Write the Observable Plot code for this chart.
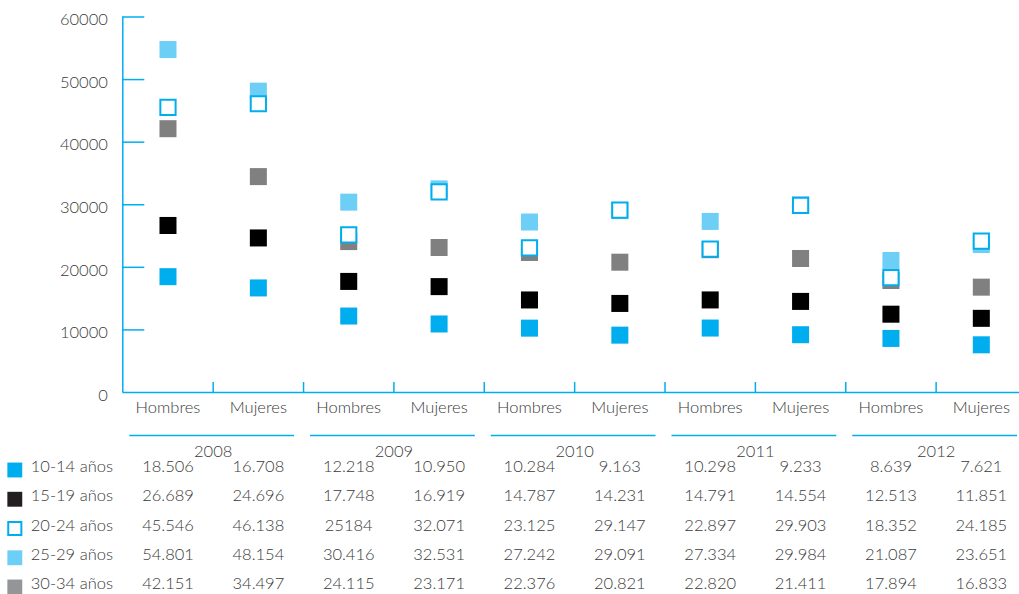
<!DOCTYPE html>
<html>
<head>
<meta charset="utf-8">
<script src="https://cdn.jsdelivr.net/npm/d3@7"></script>
<script src="https://cdn.jsdelivr.net/npm/@observablehq/plot@0.6"></script>
<style>
  html, body { margin: 0; padding: 0; background: #fff; }
  #chart svg { display: block; }
</style>
</head>
<body>
<div id="chart"></div>
<script>
const years = ["2008", "2009", "2010", "2011", "2012"];
const sexes = ["Hombres", "Mujeres"];
const groups = ["10-14 años", "15-19 años", "20-24 años", "25-29 años", "30-34 años"];
const yTicks = [0, 10000, 20000, 30000, 40000, 50000, 60000];

// values per column: 2008 H, 2008 M, 2009 H, 2009 M, ... 2012 M
const s1014 = [18506, 16708, 12218, 10950, 10284, 9163, 10298, 9233, 8639, 7621];
const s1519 = [26689, 24696, 17748, 16919, 14787, 14231, 14791, 14554, 12513, 11851];
const s2024 = [45546, 46138, 25184, 32071, 23125, 29147, 22897, 29903, 18352, 24185];
const s2529 = [54801, 48154, 30416, 32531, 27242, 29091, 27334, 29984, 21087, 23651];
const s3034 = [42151, 34497, 24115, 23171, 22376, 20821, 22820, 21411, 17894, 16833];
const series = [s1014, s1519, s2024, s2529, s3034];
// a cell printed without thousands separator in the source table
const rawCells = [[2, 2]];

const fills = ["#00AEEF", "#000000", "#FFFFFF", "#6DCFF6", "#808080"];
const strokes = ["none", "none", "#00AEEF", "none", "none"];
const drawOrder = [0, 1, 3, 4, 2];

const fmt = d3.formatLocale({decimal: ",", thousands: ".", grouping: [3]}).format(",d");
const label = (g, i) => rawCells.some(([a, b]) => a === g && b === i) ? String(series[g][i]) : fmt(series[g][i]);

const cols = [];
years.forEach((yr, yi) => sexes.forEach((sx, si) => {
  const i = yi * 2 + si;
  cols.push({i, year: yr, sex: sx, x: i + 0.5});
}));

const points = [];
groups.forEach((g, gi) => cols.forEach(c => points.push({g: gi, x: c.x, value: series[gi][c.i]})));

const blue = "#00AEEF";
const txt = "#3a3a3a";
const rowDy = gi => 79.5 + gi * 29.25;
const fs = 16.5;

const marks = [
  // y axis line and inward ticks
  Plot.ruleX([0], {y1: 0, y2: 60000, stroke: blue, strokeWidth: 1.5}),
  Plot.ruleY(yTicks.slice(1), {y: d => d, x1: 0, x2: 0, insetRight: -22, stroke: blue, strokeWidth: 1.5}),
  Plot.axisY(yTicks, {tickSize: 0, tickPadding: 15, dy: 3, fontSize: fs, fill: txt, tickFormat: d => String(d), label: null}),
  // baseline and category separators
  Plot.ruleY([0], {x1: 0, x2: 10, stroke: blue, strokeWidth: 1.5}),
  Plot.ruleX(d3.range(1, 10), {x: d => d, y1: 0, y2: 0, insetTop: -10, stroke: blue, strokeWidth: 1.5}),
  // category labels
  Plot.text(cols, {x: "x", text: "sex", frameAnchor: "bottom", dy: 20, fontSize: fs, fill: txt}),
  // year group lines and labels
  Plot.ruleY(years, {y: 0, x1: (d, i) => i * 2, x2: (d, i) => i * 2 + 2, insetLeft: 7, insetRight: 9, dy: 43, stroke: blue, strokeWidth: 1.5}),
  Plot.text(years, {x: (d, i) => i * 2 + 1, text: d => d, frameAnchor: "bottom", dy: 64, fontSize: fs, fill: txt})
];

// points
drawOrder.forEach(gi => {
  const hollow = strokes[gi] !== "none";
  marks.push(Plot.dot(points.filter(p => p.g === gi), {
    x: "x", y: "value", symbol: "square",
    r: hollow ? 8.6 : 9.6,
    fill: fills[gi], stroke: strokes[gi], strokeWidth: hollow ? 2 : 0
  }));
});

// table rows + legend
groups.forEach((g, gi) => {
  const hollow = strokes[gi] !== "none";
  marks.push(Plot.text(cols, {x: "x", text: c => label(gi, c.i), frameAnchor: "bottom", dy: rowDy(gi), fontSize: fs, fill: txt}));
  marks.push(Plot.dot([g], {frameAnchor: "bottom-left", dx: -108, dy: rowDy(gi) - 2, symbol: "square",
    r: hollow ? 7.4 : 8.4, fill: gi === 4 ? "#939598" : (gi === 1 ? "#231F20" : fills[gi]), stroke: strokes[gi], strokeWidth: hollow ? 2 : 0}));
  marks.push(Plot.text([g], {frameAnchor: "bottom-left", dx: -92, dy: rowDy(gi), text: d => d, textAnchor: "start", fontSize: fs, fill: txt}));
});

const chart = Plot.plot({
  width: 1019,
  height: 594,
  marginTop: 16.5,
  marginLeft: 122.3,
  marginRight: 0,
  marginBottom: 202,
  style: {fontFamily: "Lato, 'Open Sans', sans-serif", fontWeight: 300, background: "#fff", color: txt, overflow: "visible"},
  x: {domain: [0, 10], range: [122.3, 1026], axis: null},
  y: {domain: [0, 60000], range: [392, 16.5]},
  marks
});
document.getElementById("chart").append(chart);
</script>
</body>
</html>
